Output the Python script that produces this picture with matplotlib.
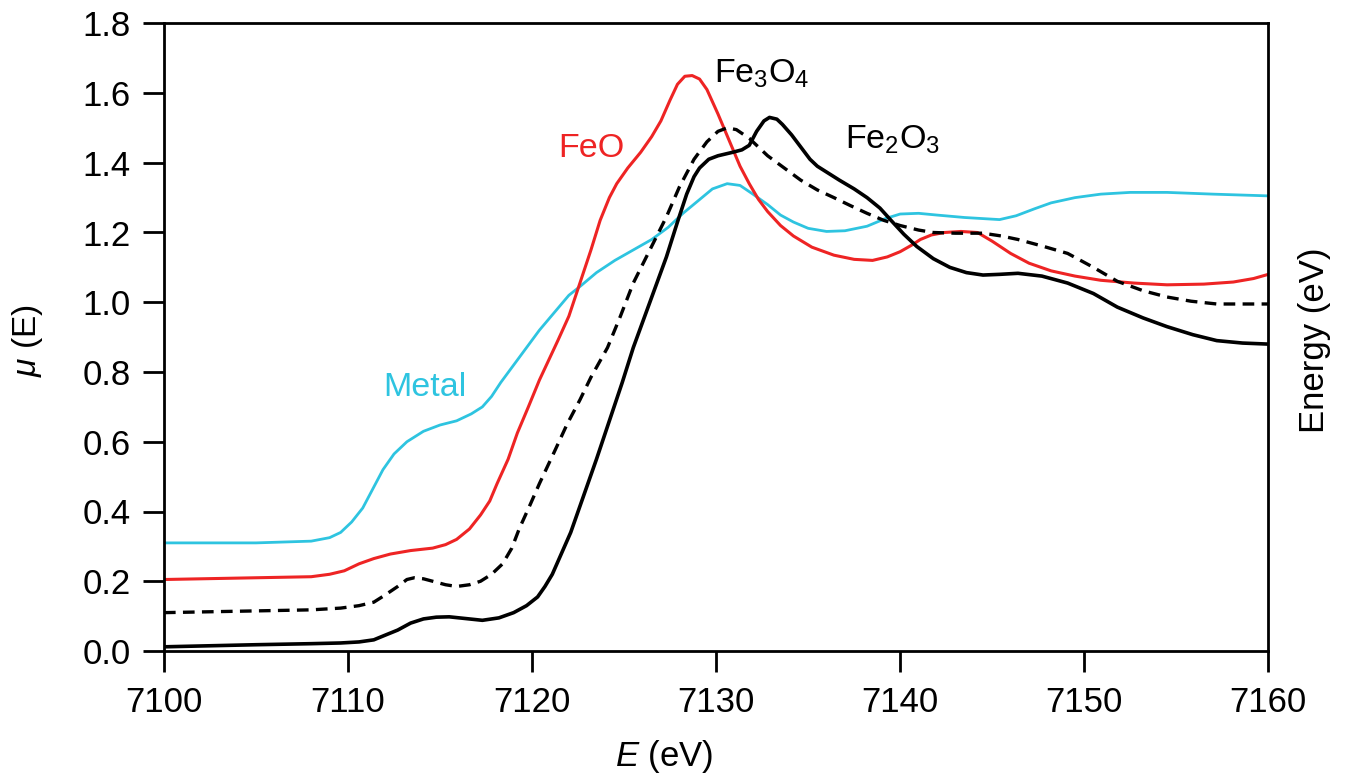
import matplotlib
matplotlib.use("Agg")
import matplotlib.pyplot as plt

# Fe K-edge XANES spectra
metal_x = [7100, 7105, 7108, 7109, 7109.6, 7110.2, 7110.8, 7111.4, 7111.9, 7112.5, 7113.2,
           7114.1, 7115, 7115.9, 7116.7, 7117.3, 7117.8, 7118.3, 7119, 7119.7, 7120.4,
           7121.2, 7122, 7122.6, 7123.5, 7124.5, 7125.5, 7126.5, 7127.4, 7128.2, 7129,
           7129.8, 7130.6, 7131.3, 7132, 7132.8, 7133.5, 7134.2, 7135, 7136, 7137,
           7138.2, 7139.2, 7140, 7141, 7142, 7143.5, 7145.4, 7146.3, 7147.3, 7148.2,
           7149.5, 7150.9, 7152.5, 7154.5, 7157, 7160]
metal_y = [0.31, 0.31, 0.315, 0.325, 0.34, 0.37, 0.41, 0.47, 0.52, 0.565, 0.60,
           0.63, 0.648, 0.66, 0.68, 0.70, 0.73, 0.77, 0.82, 0.87, 0.92,
           0.97, 1.02, 1.045, 1.085, 1.12, 1.15, 1.18, 1.215, 1.255, 1.29,
           1.325, 1.34, 1.335, 1.31, 1.28, 1.25, 1.23, 1.212, 1.203, 1.205,
           1.218, 1.24, 1.253, 1.255, 1.25, 1.243, 1.237, 1.248, 1.268, 1.285,
           1.30, 1.31, 1.315, 1.315, 1.31, 1.305]

feo_x = [7100, 7105, 7108, 7109, 7109.8, 7110.6, 7111.4, 7112.3, 7113.4, 7114.6, 7115.3,
         7115.9, 7116.6, 7117.2, 7117.7, 7118.1, 7118.7, 7119.2, 7119.8, 7120.4, 7121.4,
         7122, 7122.6, 7123.2, 7123.7, 7124.2, 7124.6, 7125.2, 7125.9, 7126.5, 7127,
         7127.5, 7127.9, 7128.3, 7128.7, 7129.1, 7129.5, 7130.1, 7130.5, 7130.9, 7131.3,
         7131.8, 7132.3, 7132.8, 7133.5, 7134.2, 7135.2, 7136.4, 7137.5, 7138.5, 7139.3,
         7140, 7140.6, 7141.1, 7141.7, 7142.4, 7143.3, 7144.2, 7145, 7146, 7147,
         7148.2, 7149.5, 7150.9, 7152.7, 7154.5, 7156.5, 7158.1, 7159.2, 7160]
feo_y = [0.205, 0.21, 0.213, 0.22, 0.23, 0.25, 0.265, 0.278, 0.288, 0.295, 0.305,
         0.32, 0.35, 0.39, 0.43, 0.48, 0.55, 0.625, 0.70, 0.777, 0.89,
         0.96, 1.055, 1.15, 1.235, 1.30, 1.34, 1.385, 1.43, 1.475, 1.52,
         1.58, 1.625, 1.648, 1.65, 1.64, 1.61, 1.54, 1.49, 1.44, 1.39,
         1.34, 1.295, 1.26, 1.22, 1.19, 1.158, 1.135, 1.123, 1.12, 1.13,
         1.145, 1.163, 1.18, 1.193, 1.20, 1.203, 1.20, 1.175, 1.14, 1.112,
         1.09, 1.075, 1.063, 1.055, 1.05, 1.052, 1.058, 1.068, 1.08]

fe3o4_x = [7100, 7105, 7108, 7109.6, 7110.6, 7111.4, 7112, 7112.7, 7113.2, 7113.6, 7114.1,
           7114.6, 7115.3, 7115.9, 7116.6, 7117.2, 7117.8, 7118.4, 7118.9, 7119.3, 7119.9,
           7120.4, 7121.2, 7121.9, 7122.6, 7123.2, 7124.1, 7124.8, 7125.5, 7126.4, 7127.3,
           7128, 7128.8, 7129.5, 7130.1, 7130.6, 7131.1, 7131.8, 7132.3, 7132.8, 7133.7,
           7134.6, 7135.5, 7136.4, 7137.3, 7138.2, 7139.1, 7140, 7141, 7141.8, 7143,
           7144.5, 7145.5, 7146.4, 7147.8, 7149.1, 7150.5, 7151.8, 7153.2, 7154.5, 7155.8,
           7157.2, 7160]
fe3o4_y = [0.11, 0.115, 0.118, 0.123, 0.13, 0.14, 0.16, 0.185, 0.205, 0.21, 0.207,
           0.20, 0.19, 0.185, 0.19, 0.20, 0.22, 0.25, 0.295, 0.35, 0.42,
           0.48, 0.57, 0.65, 0.72, 0.785, 0.87, 0.96, 1.055, 1.15, 1.245,
           1.33, 1.41, 1.46, 1.49, 1.50, 1.495, 1.47, 1.445, 1.42, 1.385,
           1.35, 1.322, 1.30, 1.277, 1.255, 1.235, 1.22, 1.207, 1.20, 1.198,
           1.198, 1.19, 1.18, 1.16, 1.14, 1.10, 1.06, 1.033, 1.015, 1.003,
           0.995, 0.995]

fe2o3_x = [7100, 7105, 7108, 7109.6, 7110.6, 7111.4, 7112, 7112.7, 7113.4, 7114.1, 7114.8,
           7115.5, 7116.4, 7117.3, 7118.2, 7119, 7119.7, 7120.3, 7120.7, 7121.1, 7121.6,
           7122.1, 7122.8, 7123.5, 7124.2, 7124.9, 7125.5, 7126.4, 7127.3, 7127.9, 7128.4,
           7128.8, 7129.1, 7129.6, 7130.1, 7130.9, 7131.4, 7131.8, 7132.2, 7132.6, 7132.9,
           7133.3, 7133.6, 7134.1, 7134.6, 7135.1, 7135.5, 7136.1, 7136.7, 7137.5, 7138.2,
           7138.9, 7139.5, 7140.2, 7140.9, 7141.8, 7142.7, 7143.6, 7144.5, 7145.4, 7146.4,
           7147.7, 7149.1, 7150.5, 7151.8, 7153.2, 7154.5, 7155.9, 7157.2, 7158.6, 7160]
fe2o3_y = [0.012, 0.018, 0.021, 0.023, 0.026, 0.032, 0.045, 0.06, 0.08, 0.092, 0.097,
           0.098, 0.093, 0.088, 0.095, 0.11, 0.13, 0.155, 0.185, 0.22, 0.28,
           0.34, 0.445, 0.55, 0.66, 0.77, 0.87, 1.00, 1.13, 1.23, 1.31,
           1.36, 1.385, 1.41, 1.42, 1.43, 1.437, 1.45, 1.49, 1.52, 1.53,
           1.525, 1.51, 1.48, 1.445, 1.41, 1.39, 1.37, 1.35, 1.325, 1.30,
           1.27, 1.235, 1.195, 1.16, 1.125, 1.10, 1.085, 1.078, 1.08, 1.083,
           1.075, 1.055, 1.025, 0.986, 0.955, 0.93, 0.907, 0.89, 0.883, 0.88]

x_ticks = [7100, 7110, 7120, 7130, 7140, 7150, 7160]
y_ticks = [0.0, 0.2, 0.4, 0.6, 0.8, 1.0, 1.2, 1.4, 1.6, 1.8]

RED = "#ee2424"
CYAN = "#2ec4e0"


def main():
    plt.rcParams["font.family"] = ["Liberation Sans", "DejaVu Sans"]
    plt.rcParams["mathtext.fontset"] = "custom"
    plt.rcParams["mathtext.rm"] = "Liberation Sans"
    plt.rcParams["mathtext.it"] = "Liberation Sans:italic"

    fig = plt.figure(figsize=(13.55, 7.75), dpi=100)
    ax = fig.add_axes([0.121, 0.16, 0.815, 0.81])

    ax.plot(metal_x, metal_y, color=CYAN, lw=2.0)
    ax.plot(feo_x, feo_y, color=RED, lw=2.2)
    ax.plot(fe3o4_x, fe3o4_y, color="black", lw=2.4, ls=(0, (3.5, 2.2)))
    ax.plot(fe2o3_x, fe2o3_y, color="black", lw=2.6)

    ax.set_xlim(7100, 7160)
    ax.set_ylim(0, 1.8)
    ax.set_xticks(x_ticks)
    ax.set_yticks(y_ticks)
    ax.set_yticklabels([f"{v:.1f}" for v in y_ticks])
    ax.tick_params(direction="out", length=15, width=2, labelsize=25)
    ax.tick_params(axis="x", pad=10)
    ax.tick_params(axis="y", pad=9)
    for s in ax.spines.values():
        s.set_linewidth(2)

    ax.set_xlabel("$E$ (eV)", fontsize=25)
    ax.xaxis.set_label_coords(0.453, -0.139)
    ax.set_ylabel("$\\mu$ (E)", fontsize=24)
    ax.yaxis.set_label_coords(-0.108, 0.495)
    fig.text(0.970, 0.561, "Energy (eV)", rotation=90, fontsize=25,
             ha="center", va="center")

    ax.text(7123.2, 1.44, "FeO", color=RED, fontsize=24.5, ha="center", va="center")
    ax.text(7132.5, 1.655, "Fe$_3$O$_4$", fontsize=24.5, ha="center", va="center")
    ax.text(7139.6, 1.465, "Fe$_2$O$_3$", fontsize=24.5, ha="center", va="center")
    ax.text(7114.2, 0.756, "Metal", color=CYAN, fontsize=24.5, ha="center", va="center")

    fig.savefig("out.png", dpi=100)


if __name__ == "__main__":
    main()
